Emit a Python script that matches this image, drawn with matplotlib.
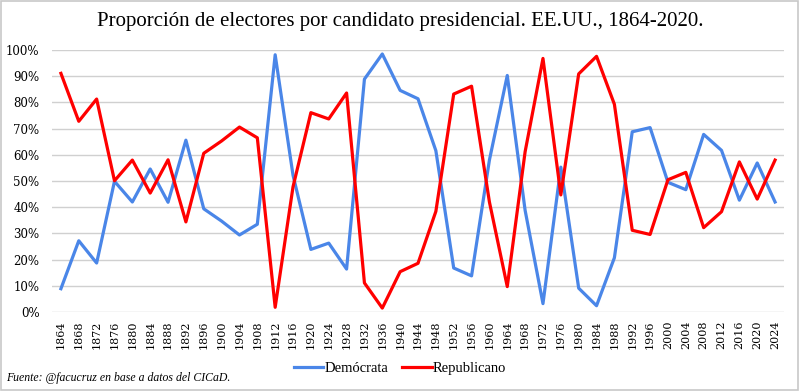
import matplotlib.pyplot as plt
from matplotlib.patches import Rectangle
from matplotlib.ticker import PercentFormatter

# Años de elección
years = list(range(1864, 2025, 4))

# Proporción de electores (%) sobre el total de los dos partidos
democrata = [8.9, 27.2, 18.7, 49.9, 42.0, 54.6, 41.9, 65.6, 39.4, 34.7,
             29.4, 33.5, 98.2, 52.2, 23.9, 26.3, 16.4, 88.9, 98.5, 84.6,
             81.4, 61.6, 16.8, 13.8, 58.0, 90.3, 38.8, 3.2, 55.3, 9.1,
             2.4, 20.7, 68.8, 70.4, 49.5, 46.7, 67.8, 61.7, 42.7, 56.9, 42.0]
republicano = [91.1, 72.8, 81.3, 50.1, 58.0, 45.4, 58.1, 34.4, 60.6, 65.3,
               70.6, 66.5, 1.8, 47.8, 76.1, 73.7, 83.6, 11.1, 1.5, 15.4,
               18.6, 38.4, 83.2, 86.2, 42.0, 9.7, 61.2, 96.8, 44.7, 90.9,
               97.6, 79.3, 31.2, 29.6, 50.5, 53.3, 32.2, 38.3, 57.3, 43.1, 58.0]

plt.rcParams['font.family'] = ['DejaVu Serif']

fig = plt.figure(figsize=(8, 3.91), dpi=100)
ax = fig.add_axes([0.065, 0.202, 0.915, 0.67])

ax.plot(years, democrata, color='#4a86e8', lw=2.3, label='Demócrata')
ax.plot(years, republicano, color='#ff0000', lw=2.3, label='Republicano')

ax.set_xlim(1862, 2026)
ax.set_ylim(0, 100)
ax.set_yticks(range(0, 101, 10))
ax.yaxis.set_major_formatter(PercentFormatter(decimals=0))
ax.set_xticks(years)
ax.set_xticklabels([str(y) for y in years], rotation=90, fontsize=8)
ax.tick_params(axis='y', labelsize=8.5, length=0, pad=9)
ax.tick_params(axis='x', length=0, pad=6)
ax.grid(axis='y', color='#d0d0d0', lw=1)
ax.set_axisbelow(True)
for s in ax.spines.values():
    s.set_visible(False)

fig.suptitle('Proporción de electores por candidato presidencial. EE.UU., 1864-2020.',
             y=0.97, fontsize=15, family='Liberation Serif')

fig.legend(loc='center', bbox_to_anchor=(0.5, 0.058), ncol=2, frameon=False,
           handlelength=2.0, columnspacing=1.0, handletextpad=0.1,
           prop={'family': 'Liberation Serif', 'size': 10.5})

fig.text(0.007, 0.025, 'Fuente: @facucruz en base a datos del CICaD.',
         fontsize=8.5, style='italic', family='Liberation Serif')

fig.patches.append(Rectangle((0.001, 0.003), 0.997, 0.994, transform=fig.transFigure,
                             fill=False, edgecolor='#c8c8c8', lw=1.2))

fig.savefig('out.png', dpi=100)
